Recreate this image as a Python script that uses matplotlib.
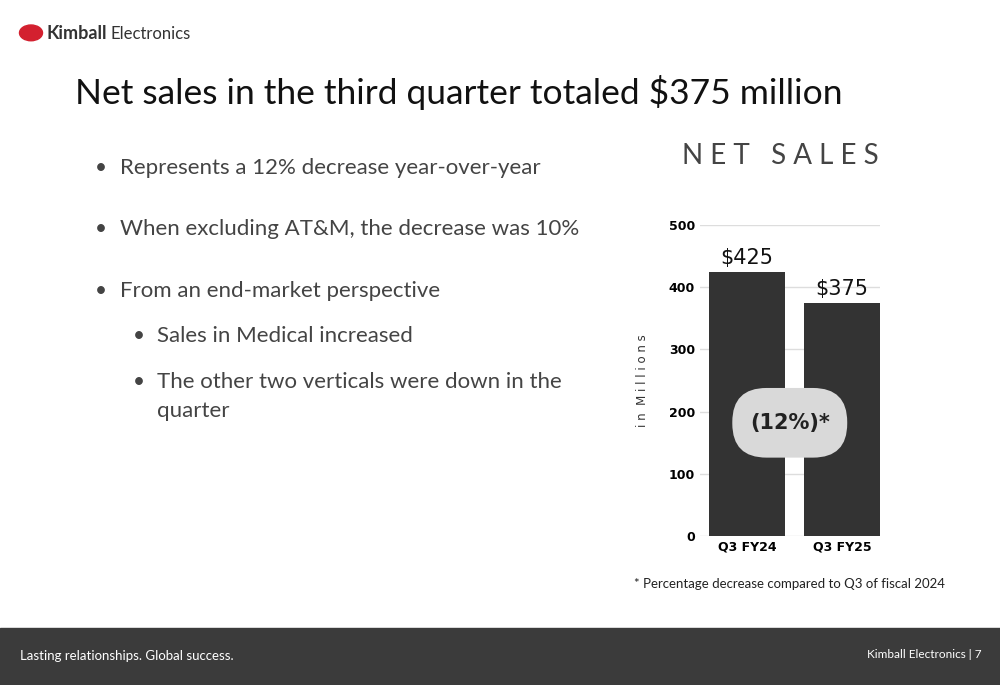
import matplotlib.pyplot as plt
from matplotlib.patches import FancyBboxPatch, Rectangle, Circle

categories = ["Q3 FY24", "Q3 FY25"]
net_sales = [425, 375]
value_labels = ["$425", "$375"]
yticks = [0, 100, 200, 300, 400, 500]
bullets = [
    (0.095, 0.755, 0.120, "Represents a 12% decrease year-over-year"),
    (0.095, 0.665, 0.120, "When excluding AT&M, the decrease was 10%"),
    (0.095, 0.575, 0.120, "From an end-market perspective"),
    (0.133, 0.510, 0.157, "Sales in Medical increased"),
    (0.133, 0.442, 0.157, "The other two verticals were down in the"),
    (None, 0.400, 0.157, "quarter"),
]

fig = plt.figure(figsize=(10, 6.85), dpi=100)
fig.patch.set_facecolor("white")

# footer band
fig.patches.append(Rectangle((0, 0), 1, 57 / 685, transform=fig.transFigure,
                             color="#3b3b3b", zorder=0))
fig.text(0.02, 0.042, "Lasting relationships. Global success.", color="white",
         fontsize=9.5, va="center", family="Lato")
fig.text(0.982, 0.045, "Kimball Electronics | 7", color="white",
         fontsize=8.5, va="center", ha="right", family="Lato")

# logo
fig.patches.append(Circle((0.031, 0.952), 0.0115, transform=fig.transFigure,
                          color="#d3202f"))
fig.text(0.047, 0.951, "Kimball", fontsize=13, fontweight="bold",
         color="#333333", va="center", family="Lato")
fig.text(0.110, 0.950, "Electronics", fontsize=12, color="#333333",
         va="center", family="Lato")

fig.text(0.075, 0.865, "Net sales in the third quarter totaled $375 million",
         fontsize=25.5, color="#111111", va="center", family="Lato")

for bx, y, tx, text in bullets:
    if bx is not None:
        fig.text(bx, y, "•", fontsize=15, color="#444444", va="center", family="Lato")
    fig.text(tx, y, text, fontsize=16, color="#444444", va="center", family="Lato")

fig.text(0.78, 0.772, "N E T   S A L E S", fontsize=20, color="#444444", ha="center",
         va="center", family="Lato")
fig.text(0.945, 0.147, "* Percentage decrease compared to Q3 of fiscal 2024",
         fontsize=9.5, color="#222222", ha="right", va="center", family="Lato")

ax = fig.add_axes([0.70, 1 - 536 / 685, 0.18, (536 - 225) / 685])
x = range(len(categories))
ax.bar(x, net_sales, width=0.79, color="#333333", zorder=2)
for xi, v, lab in zip(x, net_sales, value_labels):
    ax.text(xi, v + 6, lab, ha="center", va="bottom", fontsize=15, color="#111111")
ax.set_ylim(0, 500)
ax.set_xlim(-0.495, 1.40)
ax.set_yticks(yticks)
ax.set_yticklabels([str(t) for t in yticks], fontweight="bold", fontsize=9)
ax.set_xticks(list(x))
ax.set_xticklabels(categories, fontweight="bold", fontsize=9)
ax.yaxis.grid(True, color="#dddddd", lw=1, zorder=0)
ax.tick_params(length=0)
for s in ax.spines.values():
    s.set_visible(False)
ax.set_ylabel("i n  M i l l i o n s", fontsize=8.5, color="#333333", labelpad=14)

pill = FancyBboxPatch((-0.155, 126), 1.21, 112, boxstyle="round,pad=0,rounding_size=0.36",
                      mutation_aspect=152, facecolor="#d9d9d9", edgecolor="none",
                      zorder=3, clip_on=False)
ax.add_patch(pill)
ax.text(0.45, 182, "(12%)*", ha="center", va="center", fontsize=15,
        fontweight="bold", color="#222222", zorder=4)

fig.savefig("out.png", dpi=100)
